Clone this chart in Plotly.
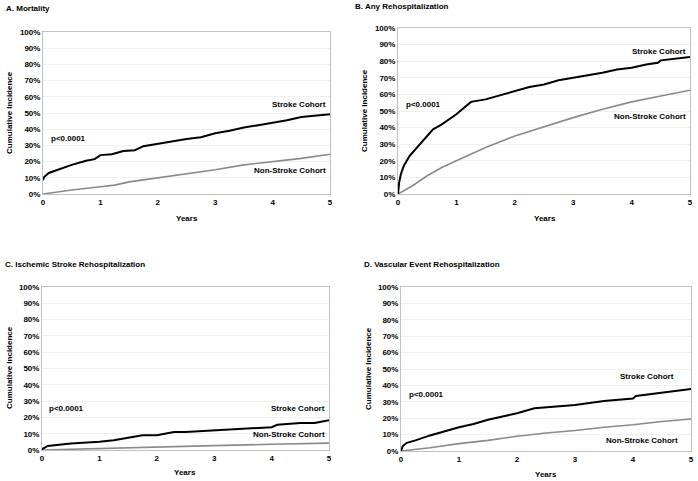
import plotly.graph_objects as go

W, H = 698, 481

# ---- Data (years, cumulative incidence %) ----
a_stroke_x = [0, 0.02, 0.1, 0.25, 0.5, 0.75, 0.9, 1.0, 1.2, 1.4, 1.6, 1.75, 2.0, 2.25, 2.5, 2.75, 3.0, 3.25, 3.5, 3.75, 4.0, 4.25, 4.5, 4.75, 5.0]
a_stroke_y = [8.5, 10.5, 13, 15, 18, 20.5, 21.5, 24, 24.5, 26.5, 27, 29.5, 31, 32.5, 34, 35, 37.5, 39, 41, 42.5, 44, 45.5, 47.5, 48.5, 49.3]
a_non_x = [0, 0.5, 1.0, 1.25, 1.5, 2.0, 2.5, 3.0, 3.5, 4.0, 4.5, 5.0]
a_non_y = [0, 2.5, 4.5, 5.5, 7.5, 10, 12.5, 15, 18, 20, 22, 24.5]

b_stroke_x = [0, 0.02, 0.05, 0.1, 0.2, 0.3, 0.4, 0.5, 0.6, 0.75, 1.0, 1.1, 1.25, 1.5, 1.75, 2.0, 2.25, 2.5, 2.75, 3.0, 3.25, 3.5, 3.75, 4.0, 4.25, 4.45, 4.5, 4.75, 5.0]
b_stroke_y = [0, 7, 12, 17, 23, 27, 30.5, 35, 39, 42, 48, 51, 55.5, 57, 59.5, 62, 64.5, 66, 68.5, 70, 71.5, 73, 75, 76, 78, 79, 80.5, 81.5, 82.5]
b_non_x = [0, 0.25, 0.5, 0.75, 1.0, 1.5, 2.0, 2.5, 3.0, 3.5, 4.0, 4.5, 5.0]
b_non_y = [0, 5, 11, 16, 20, 28, 35, 40.5, 46, 51, 55.5, 59, 62.5]

c_stroke_x = [0, 0.1, 0.5, 1.0, 1.25, 1.5, 1.75, 2.0, 2.3, 2.5, 3.0, 3.5, 4.0, 4.1, 4.5, 4.75, 5.0]
c_stroke_y = [0.5, 2.5, 4, 5, 6, 7.5, 9, 9, 11, 11, 12, 13, 14, 15.5, 16.5, 16.5, 18.3]
c_non_x = [0, 1.0, 2.0, 3.0, 4.0, 5.0]
c_non_y = [0, 1, 2, 2.7, 3.5, 4.2]

d_stroke_x = [0, 0.03, 0.1, 0.25, 0.5, 0.75, 1.0, 1.25, 1.5, 1.75, 2.0, 2.3, 2.5, 3.0, 3.5, 4.0, 4.05, 4.5, 5.0]
d_stroke_y = [0, 3, 5, 6.5, 9.5, 12, 14.5, 16.5, 19, 21, 23, 26, 26.5, 28, 30.5, 32, 33.5, 35.5, 37.8]
d_non_x = [0, 0.5, 1.0, 1.5, 2.0, 2.5, 3.0, 3.5, 4.0, 4.5, 5.0]
d_non_y = [0, 2, 4.5, 6.5, 9, 11, 12.5, 14.5, 16, 18, 19.5]

panel_titles = ["A. Mortality", "B. Any Rehospitalization",
                "C. Ischemic Stroke Rehospitalization", "D. Vascular Event Rehospitalization"]
y_ticks = list(range(0, 101, 10))
y_tick_labels = [f"{v}%" for v in y_ticks]
x_ticks = [0, 1, 2, 3, 4, 5]
y_title = "Cumulative Incidence"
x_title = "Years"
series_names = ["Stroke Cohort", "Non-Stroke Cohort"]
p_text = "p<0.0001"

# label positions (data coords): stroke label, non-stroke label, p-value
labels = [
    ((4.97, 55), (4.97, 14.3), (0.11, 34.5)),
    ((4.97, 86), (4.97, 46.8), (0.11, 54.2)),
    ((4.96, 25.5), (4.96, 9.8), (0.09, 25.5)),
    ((4.74, 45.2), (4.81, 6.3), (0.11, 34.5)),
]

data = [(a_stroke_x, a_stroke_y, a_non_x, a_non_y),
        (b_stroke_x, b_stroke_y, b_non_x, b_non_y),
        (c_stroke_x, c_stroke_y, c_non_x, c_non_y),
        (d_stroke_x, d_stroke_y, d_non_x, d_non_y)]

# plot-area pixel boxes: (left, right, top, bottom)
boxes = [(43, 330, 32, 194), (398, 690, 28, 194), (42, 329, 287, 450), (401, 691, 287, 451)]
title_pos = [(4, 8), (353, 6), (3, 264), (362, 264)]
ytitle_pos = [(10, 113), (364, 110), (9, 368), (368, 368)]
xtitle_pos = [(187, 218), (545, 219), (185, 472), (546, 474)]

FONT = dict(family="Arial, Liberation Sans, sans-serif", size=8, color="black", weight="bold")

fig = go.Figure()
layout = dict(width=W, height=H, margin=dict(l=0, r=0, t=0, b=0, autoexpand=False),
              template="none",
              paper_bgcolor="white", plot_bgcolor="white", showlegend=False,
              font=FONT)
annotations = []

for i, (sx, sy, nx, ny) in enumerate(data):
    n = i + 1
    xa = "x" if n == 1 else f"x{n}"
    ya = "y" if n == 1 else f"y{n}"
    fig.add_trace(go.Scatter(x=nx, y=ny, mode="lines", xaxis=xa, yaxis=ya,
                             line=dict(color="#8a8a8a", width=1.6), name=series_names[1]))
    fig.add_trace(go.Scatter(x=sx, y=sy, mode="lines", xaxis=xa, yaxis=ya,
                             line=dict(color="black", width=2), name=series_names[0]))
    l, r, t, b = boxes[i]
    xkey = "xaxis" if n == 1 else f"xaxis{n}"
    ykey = "yaxis" if n == 1 else f"yaxis{n}"
    layout[xkey] = dict(domain=[l / W, r / W], range=[0, 5], tickvals=x_ticks,
                        showgrid=False, zeroline=False, showline=True, linecolor="#c0c0c0",
                        linewidth=1, mirror=True, ticks="", tickfont=FONT, anchor=ya,
                        automargin=False, fixedrange=True)
    layout[ykey] = dict(domain=[(H - b) / H, (H - t) / H], range=[0, 100], tickvals=y_ticks,
                        ticktext=y_tick_labels, showgrid=True, gridcolor="#f0f0f0",
                        zeroline=False, showline=True, linecolor="#c0c0c0", linewidth=1,
                        mirror=True, ticks="", tickfont=FONT, anchor=xa,
                        automargin=False, fixedrange=True)
    (slx, sly), (nlx, nly), (plx, ply) = labels[i]
    annotations.append(dict(x=slx, y=sly, xref=xa, yref=ya, text=series_names[0],
                            showarrow=False, xanchor="right", yanchor="middle", font=FONT))
    annotations.append(dict(x=nlx, y=nly, xref=xa, yref=ya, text=series_names[1],
                            showarrow=False, xanchor="right", yanchor="middle", font=FONT))
    annotations.append(dict(x=plx, y=ply, xref=xa, yref=ya, text=p_text,
                            showarrow=False, xanchor="left", yanchor="middle", font=FONT))
    tx, ty = title_pos[i]
    annotations.append(dict(x=tx / W, y=(H - ty) / H, xref="paper", yref="paper",
                            text=panel_titles[i], showarrow=False, xanchor="left",
                            yanchor="middle", font=FONT))
    yx, yy = ytitle_pos[i]
    annotations.append(dict(x=yx / W, y=(H - yy) / H, xref="paper", yref="paper",
                            text=y_title, showarrow=False, textangle=-90, xanchor="center",
                            yanchor="middle", font=FONT))
    xx, xy = xtitle_pos[i]
    annotations.append(dict(x=xx / W, y=(H - xy) / H, xref="paper", yref="paper",
                            text=x_title, showarrow=False, xanchor="center",
                            yanchor="middle", font=FONT))

layout["annotations"] = annotations
fig.update_layout(**layout)
fig.write_html("out.html", config={"displayModeBar": False},
               post_script="document.body.style.margin='0';document.body.style.overflow='hidden';")
